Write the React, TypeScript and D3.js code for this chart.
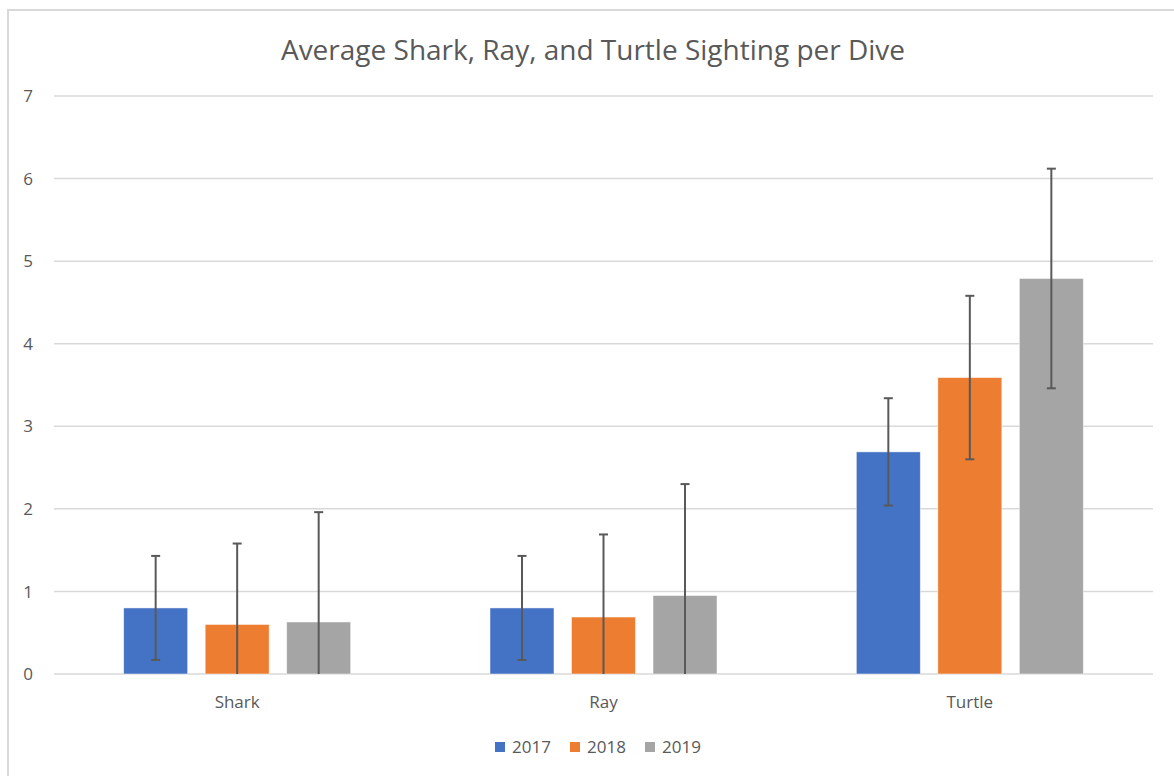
import React from 'react';
import * as d3 from 'd3';

const categories = ['Shark', 'Ray', 'Turtle'];
const years = ['2017', '2018', '2019'];
const means2017 = [0.8, 0.8, 2.69];
const means2018 = [0.6, 0.69, 3.59];
const means2019 = [0.63, 0.95, 4.79];
const err2017 = [0.63, 0.63, 0.65];
const err2018 = [0.98, 1.0, 0.99];
const err2019 = [1.33, 1.35, 1.33];
const yTicks = [0, 1, 2, 3, 4, 5, 6, 7];
const colors = ['#4472C4', '#ED7D31', '#A5A5A5'];
const title = 'Average Shark, Ray, and Turtle Sighting per Dive';

const W = 1174;
const H = 776;
const FONT = "'Open Sans', sans-serif";

export default function App() {
  const means = [means2017, means2018, means2019];
  const errs = [err2017, err2018, err2019];
  const plotL = 54;
  const plotR = 1153;
  const y = d3.scaleLinear().domain([0, 7]).range([674, 96]);
  const x0 = d3.scaleBand<string>().domain(categories).range([plotL, plotR]).padding(0);
  const groupW = 227;
  const x1 = d3.scaleBand<string>().domain(years).range([0, groupW]).paddingInner(0.215).paddingOuter(0);
  const capHalf = 4.5;

  return (
    <svg width={W} height={H} style={{ position: 'absolute', left: 0, top: 0, background: '#fff' }}>
      <rect x={0} y={0} width={W} height={H} fill="#fff" />
      <rect x={8} y={10} width={W + 20} height={H + 20} fill="#fff" stroke="#d9d9d9" strokeWidth={2} />
      <text x={593} y={60} textAnchor="middle" fontFamily={FONT} fontSize={28} fill="#595959">
        {title}
      </text>
      {yTicks.map((t) => (
        <g key={t}>
          <line x1={plotL} x2={plotR} y1={y(t)} y2={y(t)} stroke="#d9d9d9" strokeWidth={1.5} />
          <text x={33} y={y(t)} dy="0.36em" textAnchor="end" fontFamily={FONT} fontSize={17} fill="#595959">
            {t}
          </text>
        </g>
      ))}
      {categories.map((c, ci) => {
        const gx = (x0(c) as number) + (x0.bandwidth() - groupW) / 2;
        return (
          <g key={c}>
            {years.map((yr, si) => {
              const v = means[si][ci];
              const bx = gx + (x1(yr) as number);
              return (
                <rect key={yr} x={bx} y={y(v)} width={x1.bandwidth()} height={y(0) - y(v)} fill={colors[si]} stroke="#ffffff" strokeOpacity={0.6} strokeWidth={0.8} />
              );
            })}
            {years.map((yr, si) => {
              const v = means[si][ci];
              const e = errs[si][ci];
              const cx = gx + (x1(yr) as number) + x1.bandwidth() / 2;
              const hi = v + e;
              const lo = Math.max(0, v - e);
              const clipped = v - e < 0;
              return (
                <g key={'e' + yr} stroke="#595959" strokeWidth={2}>
                  <line x1={cx} x2={cx} y1={y(hi)} y2={y(lo)} />
                  <line x1={cx - capHalf} x2={cx + capHalf} y1={y(hi)} y2={y(hi)} />
                  {!clipped && <line x1={cx - capHalf} x2={cx + capHalf} y1={y(lo)} y2={y(lo)} />}
                </g>
              );
            })}
            <text x={(x0(c) as number) + x0.bandwidth() / 2} y={708} textAnchor="middle" fontFamily={FONT} fontSize={17} fill="#595959">
              {c}
            </text>
          </g>
        );
      })}
      {years.map((yr, i) => {
        const lx = 495 + i * 75;
        return (
          <g key={yr}>
            <rect x={lx} y={742} width={10} height={10} fill={colors[i]} />
            <text x={lx + 17} y={753} fontFamily={FONT} fontSize={17} fill="#595959">
              {yr}
            </text>
          </g>
        );
      })}
    </svg>
  );
}
